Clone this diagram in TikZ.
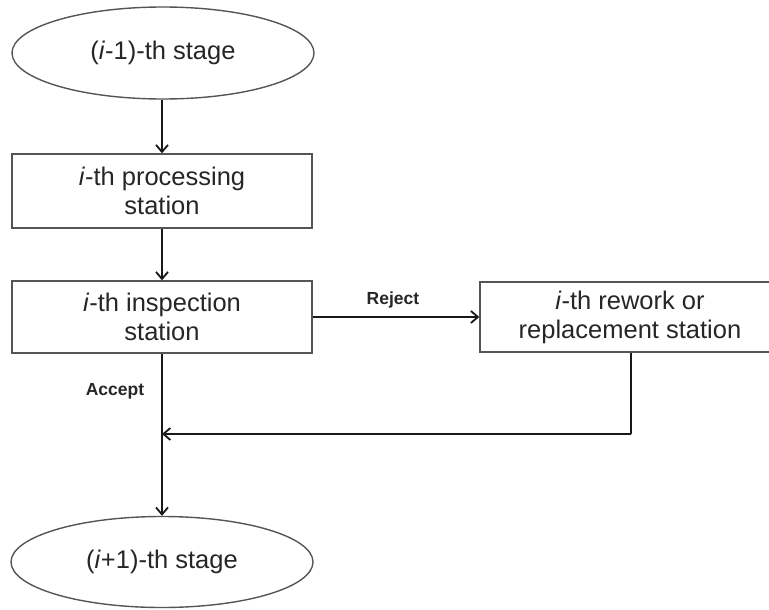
\documentclass[tikz,border=0pt]{standalone}
\usepackage{fontspec}
\setmainfont{Liberation Sans}
\usetikzlibrary{shapes.geometric,arrows.meta}
\definecolor{txt}{HTML}{262626}
\definecolor{edge}{HTML}{555555}
\tikzset{
  stagenode/.style={draw=edge, line width=1.4pt, ellipse, inner sep=0pt,
    minimum width=302pt, minimum height=92pt, text=txt,
    font=\fontsize{25.5}{29}\selectfont},
  stationbox/.style={draw=edge, line width=1.4pt, rectangle, inner sep=0pt,
    minimum width=300pt, text=txt, align=center,
    font=\fontsize{25.5}{29}\selectfont},
  flow/.style={draw=black!90, line width=1.8pt,
    -{Straight Barb[length=7pt,width=12pt,line width=1.8pt]}},
  plain/.style={draw=black!90, line width=1.8pt},
  lab/.style={font=\bfseries\fontsize{17.5}{20}\selectfont, text=txt, inner sep=0pt}
}
\begin{document}
\begin{tikzpicture}[x=1pt,y=-1pt]
\useasboundingbox (0,0) rectangle (769,610);
\node[stagenode] (e1) at (163,53) {(\textit{i}-1)-th stage};
\node[stationbox, minimum height=74pt] (b1) at (162,191) {\textit{i}-th processing\\station};
\node[stationbox, minimum height=72pt] (b2) at (162,317) {\textit{i}-th inspection\\station};
\node[stationbox, minimum height=70pt] (b3) at (630,317) {\textit{i}-th rework or\\replacement station};
\node[stagenode, minimum height=91pt] (e2) at (162,562) {(\textit{i}+1)-th stage};
\coordinate (j) at (162,434);
\coordinate (r) at (631,434);
\node[lab] (rej) at (393,300) {Reject};
\node[lab] (acc) at (115,391) {Accept};
\draw[flow] (e1.south -| b1.north) -- (b1.north);
\draw[flow] (b1.south) -- (b2.north);
\draw[flow] (b2.east) -- (b3.west);
\draw[flow] (b2.south) -- (e2.north);
\draw[plain] (b3.south -| r) -- (r);
\draw[flow] (r) -- (j);
\end{tikzpicture}
\end{document}
